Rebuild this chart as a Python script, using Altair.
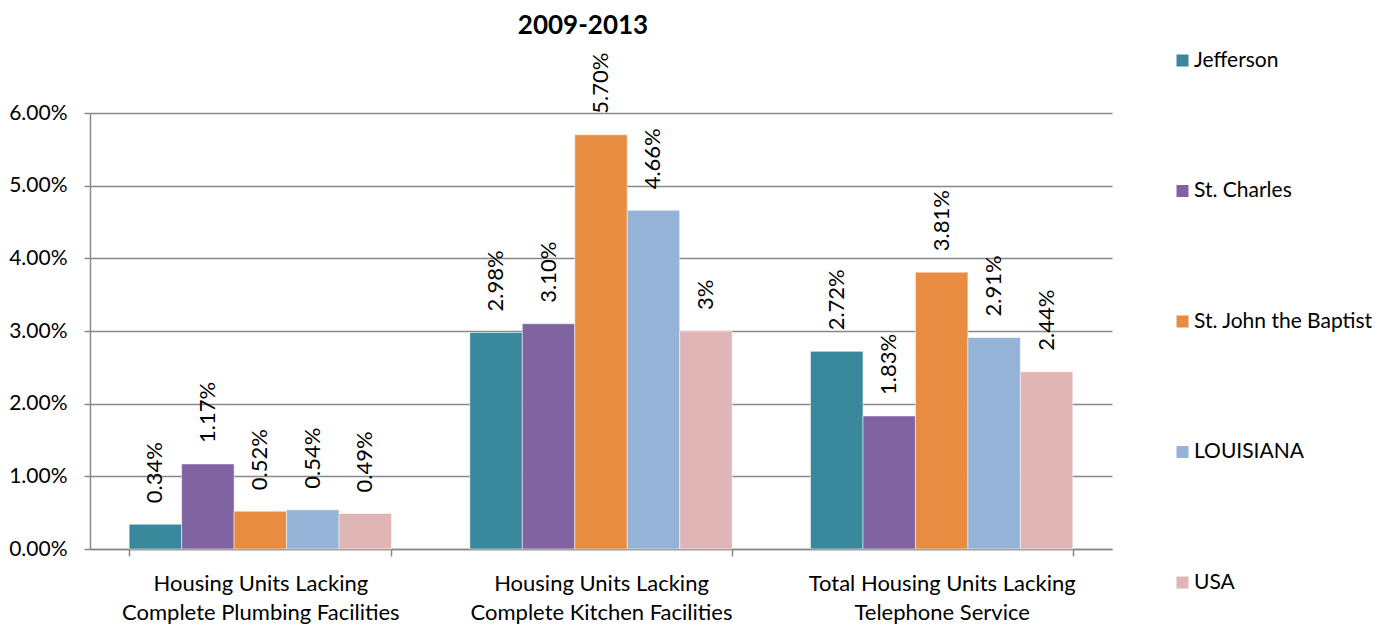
import altair as alt
import pandas as pd

categories = [
    "Housing Units Lacking|Complete Plumbing Facilities",
    "Housing Units Lacking|Complete Kitchen Facilities",
    "Total Housing Units Lacking|Telephone Service",
]
series = ["Jefferson", "St. Charles", "St. John the Baptist", "LOUISIANA", "USA"]
colors = ["#3A889B", "#8064A2", "#E88C41", "#95B3D7", "#DFB5B5"]

plumbing = [0.0034, 0.0117, 0.0052, 0.0054, 0.0049]
kitchen = [0.0298, 0.0310, 0.0570, 0.0466, 0.0300]
telephone = [0.0272, 0.0183, 0.0381, 0.0291, 0.0244]

plumbing_labels = ["0.34%", "1.17%", "0.52%", "0.54%", "0.49%"]
kitchen_labels = ["2.98%", "3.10%", "5.70%", "4.66%", "3%"]
telephone_labels = ["2.72%", "1.83%", "3.81%", "2.91%", "2.44%"]

rows = []
for cat, vals, labs in zip(categories, [plumbing, kitchen, telephone],
                           [plumbing_labels, kitchen_labels, telephone_labels]):
    for s, v, l in zip(series, vals, labs):
        rows.append({"category": cat, "series": s, "value": v, "label": l})
df = pd.DataFrame(rows)

FONT = "Lato"

x = alt.X("category:N", sort=categories, title=None,
          scale=alt.Scale(paddingInner=0.23, paddingOuter=0.115),
          axis=alt.Axis(labelAngle=0, labelExpr="split(datum.label, '|')",
                        labelFontSize=22, labelLineHeight=29, labelPadding=17,
                        labelLimit=0, labelColor="#000000", labelFont=FONT,
                        tickBand="extent", tickSize=7, tickColor="#888888",
                        tickWidth=1.5, domainColor="#888888", domainWidth=1.5,
                        grid=False))
xo = alt.XOffset("series:N", sort=series, scale=alt.Scale(paddingInner=0, paddingOuter=0))
y = alt.Y("value:Q", title=None,
          scale=alt.Scale(domain=[0, 0.06], nice=False),
          axis=alt.Axis(format=".2%", values=[0, 0.01, 0.02, 0.03, 0.04, 0.05, 0.06],
                        labelFontSize=21, labelColor="#000000", labelFont=FONT,
                        labelPadding=17, tickSize=6, tickColor="#888888", tickWidth=1.5,
                        domainColor="#888888", domainWidth=1.5,
                        gridColor="#888888", gridWidth=1.5))

color = alt.Color("series:N", sort=series,
                  scale=alt.Scale(domain=series, range=colors),
                  legend=alt.Legend(title=None, orient="none", legendX=1082, legendY=-63,
                                    direction="vertical", symbolType="square",
                                    symbolSize=144, symbolStrokeWidth=0,
                                    labelFontSize=21, labelFont=FONT, labelColor="#000000",
                                    labelOffset=1, labelLimit=0, rowPadding=108.5, padding=0))

bars = alt.Chart(df).mark_bar(stroke="white", strokeWidth=0.5).encode(
    x=x, xOffset=xo, y=y, color=color)

text = alt.Chart(df).mark_text(angle=270, align="left", baseline="middle",
                               dx=21, fontSize=22, font=FONT, color="#000000").encode(
    x=x, xOffset=xo, y=y, text="label:N")

chart = alt.layer(bars, text).properties(
    width=1022, height=436,
    title=alt.TitleParams("2009-2013", fontSize=26, font=FONT, fontWeight="bold",
                          color="#000000", anchor="middle", dx=-18, offset=11),
    autosize=alt.AutoSizeParams(type="none"),
    padding={"left": 82, "top": 105, "right": 270, "bottom": 77},
).configure_view(stroke=None)

chart.save("out.html", embed_options={"renderer": "svg", "actions": False})
